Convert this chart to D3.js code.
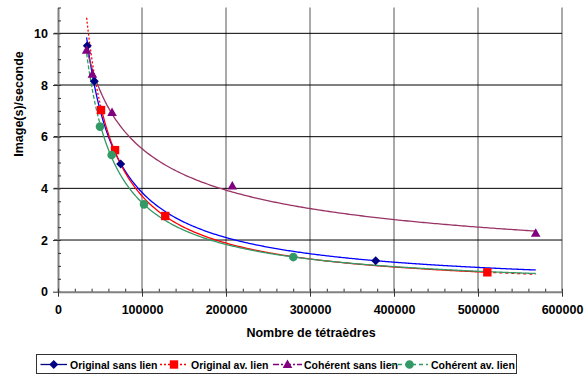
<!DOCTYPE html>
<html><head><meta charset="utf-8">
<script src="https://cdn.jsdelivr.net/npm/d3@7"></script>
<style>
body{margin:0;background:#fff;}
text{font-family:"Liberation Sans",Arial,sans-serif;font-weight:bold;fill:#000;}
</style></head>
<body><svg id="c" width="584" height="375"></svg>
<script>
// ---- data ----
const origSansX = [34900, 43200, 74600, 378200];
const origSansY = [9.52, 8.15, 4.94, 1.20];
const origAvX = [51200, 67900, 127700, 511100];
const origAvY = [7.03, 5.48, 2.93, 0.75];
const cohSansX = [34100, 40900, 64300, 207500, 568700];
const cohSansY = [9.35, 8.42, 6.94, 4.09, 2.26];
const cohAvX = [50000, 63900, 102400, 280100];
const cohAvY = [6.39, 5.29, 3.38, 1.34];
const seriesNames = ["Original sans lien", "Original av. lien", "Cohérent sans lien", "Cohérent av. lien"];
const xTickValues = [0, 100000, 200000, 300000, 400000, 500000, 600000];
const yTickValues = [0, 2, 4, 6, 8, 10];
const xTitle = "Nombre de tétraèdres";
const yTitle = "Image(s)/seconde";

const series = [
  {name: seriesNames[0], xs: origSansX, ys: origSansY, marker: "diamond", mcol: "#000080", tcol: "#0000FF", lcol: "#000080", dash: null, leftDash: null, rightDash: null},
  {name: seriesNames[1], xs: origAvX, ys: origAvY, marker: "square", mcol: "#FF0000", tcol: "#FF0000", lcol: "#FF0000", dash: "2,2", leftDash: "2,2", rightDash: "3,3"},
  {name: seriesNames[2], xs: cohSansX, ys: cohSansY, marker: "triangle", mcol: "#800080", tcol: "#993366", lcol: "#800080", dash: "6,2,2,2", leftDash: null, rightDash: null},
  {name: seriesNames[3], xs: cohAvX, ys: cohAvY, marker: "circle", mcol: "#339966", tcol: "#339966", lcol: "#339966", dash: "4,3", leftDash: "4,2", rightDash: null}
];

const svg = d3.select("#c");
const x = d3.scaleLinear().domain([0, 600000]).range([58, 562]);
const y = d3.scaleLinear().domain([0, 11]).range([291.7, 7.5]);

// gridlines
svg.append("g").selectAll("line").data(xTickValues.slice(1)).join("line")
  .attr("x1", d => x(d)).attr("x2", d => x(d)).attr("y1", y(11)).attr("y2", y(0))
  .attr("stroke", "#555").attr("stroke-width", 1);
svg.append("g").selectAll("line").data(yTickValues.slice(1)).join("line")
  .attr("x1", x(0) - 4).attr("x2", x(600000)).attr("y1", d => y(d)).attr("y2", d => y(d))
  .attr("stroke", "#000").attr("stroke-width", 1);

// power trendlines (least squares on logs)
const allX = [].concat(...series.map(s => s.xs));
const gx0 = d3.min(allX), gx1 = d3.max(allX);
function powerFit(xs, ys) {
  const lx = xs.map(Math.log), ly = ys.map(Math.log);
  const mx = d3.mean(lx), my = d3.mean(ly);
  let sxy = 0, sxx = 0;
  lx.forEach((v, i) => { sxy += (v - mx) * (ly[i] - my); sxx += (v - mx) * (v - mx); });
  const b = sxy / sxx, a = Math.exp(my - b * mx);
  return v => a * Math.pow(v, b);
}
const line = d3.line().x(d => x(d[0])).y(d => y(d[1]));
const tg = svg.append("g");
series.forEach(s => {
  const f = powerFit(s.xs, s.ys);
  const lo = d3.min(s.xs), hi = d3.max(s.xs);
  const seg = (a, b, dash) => {
    if (b - a <= 0) return;
    const pts = d3.range(0, 201).map(i => { const v = a + (b - a) * i / 200; return [v, f(v)]; });
    tg.append("path").attr("d", line(pts)).attr("fill", "none")
      .attr("stroke", s.tcol).attr("stroke-width", 1.3)
      .attr("stroke-dasharray", dash);
  };
  seg(gx0, lo, s.leftDash);
  seg(lo, hi, null);
  seg(hi, gx1, s.rightDash);
});

// markers
function markerPath(type, cx, cy) {
  const p = d3.path();
  if (type === "diamond") { const r = 4.5; p.moveTo(cx, cy - r); p.lineTo(cx + r, cy); p.lineTo(cx, cy + r); p.lineTo(cx - r, cy); p.closePath(); }
  else if (type === "square") { const r = 4.2; p.rect(cx - r, cy - r, 2 * r, 2 * r); }
  else if (type === "triangle") { p.moveTo(cx, cy - 5); p.lineTo(cx + 4.8, cy + 3.5); p.lineTo(cx - 4.8, cy + 3.5); p.closePath(); }
  else { p.arc(cx, cy, 4.3, 0, 2 * Math.PI); }
  return p.toString();
}
const mg = svg.append("g");
series.forEach(s => {
  mg.append("g").selectAll("path").data(s.xs.map((v, i) => [v, s.ys[i]])).join("path")
    .attr("d", d => markerPath(s.marker, x(d[0]), y(d[1])))
    .attr("fill", s.mcol);
});

// axes
const axStyle = g => { g.selectAll(".domain").attr("stroke", "#808080").attr("stroke-width", 2);
  g.selectAll(".tick line").attr("stroke", "#333").attr("stroke-width", 1); };
const yMinor = d3.range(0, 11.01, 0.5);
svg.append("g").attr("transform", `translate(${x(0)},0)`)
  .call(d3.axisLeft(y).tickValues(yMinor).tickSize(-3).tickFormat("").tickSizeOuter(0)).call(axStyle);
svg.append("g").attr("transform", `translate(${x(0)},0)`)
  .call(d3.axisLeft(y).tickValues(yTickValues).tickSize(5).tickPadding(5).tickSizeOuter(0)).call(axStyle)
  .call(g => g.select(".domain").remove())
  .selectAll("text").style("font-size", "12.5px").style("font-family", '"Liberation Sans",Arial,sans-serif').style("font-weight", "bold");
const xMinor = d3.range(0, 600001, 20000);
svg.append("g").attr("transform", `translate(0,${y(0)})`)
  .call(d3.axisBottom(x).tickValues(xMinor).tickSize(-3).tickFormat("").tickSizeOuter(0)).call(axStyle);
svg.append("g").attr("transform", `translate(0,${y(0)})`)
  .call(d3.axisBottom(x).tickValues(xTickValues).tickSize(5).tickPadding(8).tickFormat(d3.format("d")).tickSizeOuter(0)).call(axStyle)
  .call(g => g.select(".domain").remove())
  .selectAll("text").style("font-size", "12.5px").style("font-family", '"Liberation Sans",Arial,sans-serif').style("font-weight", "bold");

// titles
svg.append("text").attr("x", 311).attr("y", 337).attr("text-anchor", "middle")
  .style("font-size", "12.5px").text(xTitle);
svg.append("text").attr("transform", "translate(23,104) rotate(-90)").attr("text-anchor", "middle")
  .style("font-size", "12.5px").text(yTitle);

// legend
const lg = svg.append("g");
lg.append("rect").attr("x", 36.5).attr("y", 354.5).attr("width", 480).attr("height", 19)
  .attr("fill", "#fff").attr("stroke", "#333").attr("stroke-width", 1);
const legLine = [[40.5, 67], [160, 188], [273, 302], [391, 428]];
const legText = [70, 191, 304, 431];
series.forEach((s, i) => {
  const [l0, l1] = legLine[i], ly = 364.5;
  lg.append("line").attr("x1", l0).attr("x2", l1).attr("y1", ly).attr("y2", ly)
    .attr("stroke", s.lcol).attr("stroke-width", 1.3).attr("stroke-dasharray", s.dash);
  lg.append("path").attr("d", markerPath(s.marker, (l0 + l1) / 2, ly)).attr("fill", s.mcol);
  lg.append("text").attr("x", legText[i]).attr("y", ly + 4).style("font-size", "10.5px").text(s.name);
});
</script></body></html>
